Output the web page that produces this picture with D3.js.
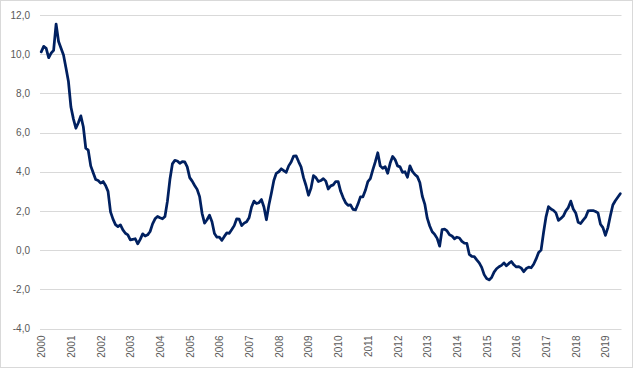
<!DOCTYPE html>
<html>
<head>
<meta charset="utf-8">
<script src="https://cdn.jsdelivr.net/npm/d3@7"></script>
<style>
html,body{margin:0;padding:0;background:#fff;}
svg{display:block;}
text{font-family:"Liberation Sans",Arial,sans-serif;}
</style>
</head>
<body>
<svg id="chart" width="640" height="369"></svg>
<script>
// Monthly values, Jan 2000 .. Jul 2019
const startYear = 2000;
const values = [
 10.12,10.4,10.3,9.82,10.05,10.2,11.54,10.65,10.3,9.96,9.3,8.6,
 7.3,6.7,6.22,6.5,6.85,6.3,5.2,5.1,4.3,3.95,3.6,3.55,
 3.42,3.5,3.3,3.0,1.95,1.58,1.3,1.2,1.29,1.03,0.86,0.78,
 0.52,0.55,0.58,0.32,0.55,0.83,0.72,0.78,0.95,1.34,1.6,1.72,
 1.65,1.6,1.72,2.5,3.6,4.4,4.58,4.55,4.43,4.52,4.5,4.25,
 3.7,3.52,3.3,3.1,2.73,1.88,1.38,1.55,1.78,1.45,0.85,0.66,
 0.66,0.5,0.7,0.88,0.86,1.05,1.25,1.6,1.58,1.25,1.38,1.45,
 1.65,2.2,2.5,2.38,2.42,2.58,2.2,1.55,2.3,2.9,3.55,3.92,
 4.0,4.15,4.06,3.97,4.3,4.5,4.8,4.81,4.52,4.25,3.7,3.3,
 2.8,3.15,3.8,3.7,3.5,3.55,3.65,3.52,3.12,3.28,3.33,3.5,
 3.5,3.0,2.68,2.42,2.28,2.31,2.08,2.05,2.35,2.72,2.72,3.05,
 3.5,3.65,4.1,4.5,4.97,4.3,4.18,4.26,3.92,4.43,4.78,4.62,
 4.3,4.25,3.97,4.0,3.72,4.3,4.02,3.86,3.75,3.45,2.75,2.35,
 1.63,1.23,0.94,0.8,0.6,0.2,1.05,1.07,0.98,0.78,0.72,0.58,
 0.66,0.62,0.45,0.36,0.35,-0.22,-0.32,-0.33,-0.5,-0.65,-0.88,-1.25,
 -1.45,-1.52,-1.4,-1.12,-0.95,-0.85,-0.78,-0.65,-0.8,-0.68,-0.58,-0.75,
 -0.86,-0.84,-0.92,-1.1,-0.94,-0.87,-0.9,-0.72,-0.45,-0.12,0.0,0.9,
 1.7,2.22,2.1,2.03,1.9,1.52,1.62,1.74,2.0,2.17,2.5,2.1,
 1.9,1.42,1.36,1.53,1.68,2.0,2.02,2.02,1.97,1.9,1.32,1.15,
 0.75,1.15,1.75,2.3,2.52,2.7,2.88
];
const yTicks = [-4,-2,0,2,4,6,8,10,12];
const yearLabels = d3.range(2000, 2020).map(String);

const svg = d3.select("#chart");
const W = 640, H = 369;
const plot = {left: 40, right: 621.5, top: 15, bottom: 328.5};

// chart border
svg.append("rect").attr("x",0.5).attr("y",0.5).attr("width",632).attr("height",367)
  .attr("fill","#fff").attr("stroke","#d9d9d9").attr("stroke-width",1);

const months = d3.range(values.length);
const x = d3.scaleBand().domain(months).range([plot.left, plot.right]).paddingInner(0).paddingOuter(0);
const cx = i => x(i) + x.bandwidth()/2;
const y = d3.scaleLinear().domain([-4,12]).range([plot.bottom, plot.top]);

// gridlines
svg.append("g").selectAll("line").data(yTicks).join("line")
  .attr("x1", plot.left).attr("x2", plot.right)
  .attr("y1", d => Math.round(y(d)) + 0.5).attr("y2", d => Math.round(y(d)) + 0.5)
  .attr("stroke", "#d9d9d9").attr("stroke-width", 1);

// y axis labels
const fmt = d => d.toFixed(1).replace(".", ",");
const yAxis = d3.axisLeft(y).tickValues(yTicks).tickFormat(fmt).tickSize(0).tickPadding(0);
const gy = svg.append("g").attr("transform", `translate(30,0)`).call(yAxis);
gy.select(".domain").remove();
gy.selectAll("text").attr("fill", "#595959").style("font-size", "10px")
  .style("font-family", '"Liberation Sans",Arial,sans-serif');

// x axis labels (rotated)
const xLab = d3.scalePoint().domain(yearLabels)
  .range([cx(0), cx(12*(yearLabels.length-1))]);
const xAxis = d3.axisBottom(xLab).tickSize(0).tickPadding(0);
const gx = svg.append("g").attr("transform", `translate(0,${plot.bottom})`).call(xAxis);
gx.select(".domain").remove();
gx.selectAll("text")
  .attr("fill", "#595959").style("font-size", "10px")
  .style("font-family", '"Liberation Sans",Arial,sans-serif')
  .attr("text-anchor", "end").attr("dy", "0.35em").attr("x", -7).attr("y", 0)
  .attr("transform", "rotate(-90)");

// line
const line = d3.line().x((d,i) => cx(i)).y(d => y(d));
svg.append("path").datum(values)
  .attr("d", line).attr("fill", "none")
  .attr("stroke", "#002060").attr("stroke-width", 2.75)
  .attr("stroke-linejoin", "round").attr("stroke-linecap", "round");
</script>
</body>
</html>
